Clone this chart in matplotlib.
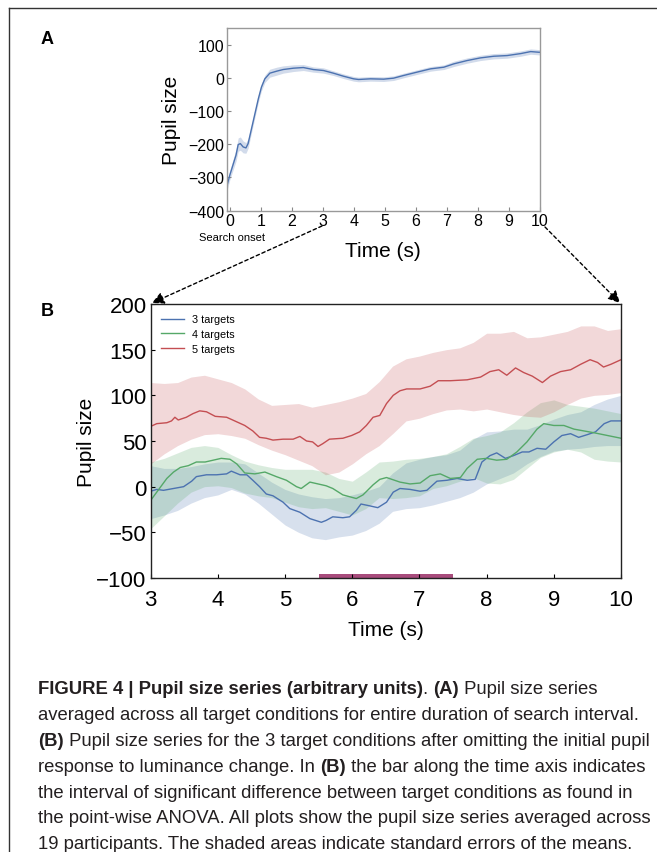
import matplotlib
matplotlib.use("Agg")
import matplotlib.pyplot as plt
from matplotlib.patches import ConnectionPatch
from matplotlib.lines import Line2D

plt.rcParams["font.family"] = ["Liberation Sans", "DejaVu Sans"]

# panel A: all conditions averaged
a_t = [-0.1, 0.0, 0.1, 0.2, 0.27, 0.34, 0.43, 0.52, 0.59, 0.7, 0.81, 0.92, 1.02, 1.13,
       1.29, 1.51, 1.72, 2.05, 2.37, 2.69, 3.02, 3.34, 3.66, 3.99, 4.15, 4.53, 4.96,
       5.28, 5.6, 6.03, 6.47, 6.9, 7.22, 7.65, 8.08, 8.51, 8.94, 9.38, 9.7, 9.97, 10.0]
a_mean = [-328, -293, -263, -233, -201, -198, -208, -211, -198, -153, -108, -63, -28, -3,
          14, 20, 25, 29, 31, 25, 22, 14, 5, -3, -5, -3, -4,
          -1, 7, 17, 27, 32, 42, 52, 60, 65, 67, 73, 79, 77, 77]
a_se = [14, 14, 16, 18, 20, 20, 18, 16, 14, 12, 11, 11, 11, 11,
        12, 12, 11, 10, 9, 8, 8, 7, 7, 7, 7, 7, 7,
        7, 7, 7, 7, 7, 8, 8, 8, 8, 8, 8, 8, 8, 8]

# panel B: per condition, 3-10 s
b_grid = [3.0, 3.2, 3.4, 3.6, 3.8, 4.0, 4.2, 4.4, 4.6, 4.8, 5.0, 5.2, 5.4, 5.6, 5.8, 6.0,
          6.2, 6.4, 6.6, 6.8, 7.0, 7.2, 7.4, 7.6, 7.8, 8.0, 8.2, 8.4, 8.6, 8.8, 9.0, 9.2,
          9.4, 9.6, 9.8, 10.0]

t3 = [3.0, 3.09, 3.19, 3.34, 3.49, 3.61, 3.68, 3.83, 3.98, 4.13, 4.2, 4.33, 4.43, 4.52,
      4.62, 4.72, 4.82, 4.97, 5.07, 5.22, 5.37, 5.54, 5.61, 5.71, 5.86, 5.96, 6.06, 6.13,
      6.26, 6.38, 6.51, 6.61, 6.71, 6.86, 7.01, 7.11, 7.26, 7.41, 7.56, 7.71, 7.83, 7.93,
      8.05, 8.15, 8.28, 8.4, 8.53, 8.63, 8.75, 8.88, 9.0, 9.12, 9.25, 9.37, 9.5, 9.62,
      9.75, 9.85, 10.0]
m3 = [-5, -3, -4, -2, 0, 6, 11, 13, 13, 14, 17, 13, 13, 7,
      0, -8, -10, -17, -24, -28, -35, -39, -37, -33, -34, -33, -26, -19,
      -21, -23, -17, -6, -2, -3, -5, -4, 6, 7, 9, 7, 8, 27,
      34, 37, 31, 34, 38, 38, 42, 41, 49, 56, 58, 54, 57, 60,
      69, 72, 72]
up3 = [23, 20, 20, 22, 25, 27, 27, 25, 15, 5, -3, -8, -11, -13, -12, -9,
       -5, 0, 15, 26, 30, 33, 35, 40, 52, 60, 61, 63, 63, 68, 74, 79,
       82, 90, 96, 100]
lo3 = [-35, -31, -26, -18, -12, -9, -3, -8, -18, -30, -42, -50, -56, -58, -55, -53,
       -48, -40, -27, -24, -23, -20, -16, -12, -6, 3, 9, 15, 25, 33, 39, 41,
       42, 44, 45, 45]

t4 = [3.0, 3.09, 3.24, 3.34, 3.44, 3.56, 3.68, 3.81, 3.93, 4.05, 4.18, 4.28, 4.4, 4.55,
      4.7, 4.87, 5.02, 5.17, 5.24, 5.37, 5.49, 5.61, 5.71, 5.86, 6.06, 6.16, 6.31, 6.41,
      6.51, 6.71, 6.86, 7.01, 7.16, 7.31, 7.46, 7.61, 7.71, 7.86, 8.0, 8.15, 8.3, 8.45,
      8.6, 8.75, 8.85, 9.0, 9.15, 9.3, 9.45, 9.6, 9.8, 10.0]
m4 = [-15, -6, 9, 16, 21, 23, 27, 27, 29, 31, 30, 25, 15, 14,
      16, 11, 7, 0, -2, 5, 3, 1, -2, -9, -13, -9, 2, 8,
      10, 5, 3, 4, 12, 14, 9, 10, 20, 30, 31, 29, 30, 38,
      49, 63, 69, 67, 67, 63, 61, 59, 56, 53]
up4 = [27, 31, 37, 43, 45, 43, 35, 28, 24, 21, 19, 19, 19, 16, 9, 6,
       16, 27, 28, 30, 31, 33, 36, 44, 53, 56, 60, 70, 82, 92, 95, 90,
       88, 86, 83, 80]
lo4 = [-46, -32, -18, -6, 0, 1, -1, -7, -10, -12, -17, -22, -24, -23, -27, -31,
       -24, -12, -13, -12, -10, -2, 1, 6, 10, 4, 3, 8, 20, 32, 38, 41,
       38, 30, 28, 27]

t5 = [3.0, 3.09, 3.24, 3.31, 3.36, 3.41, 3.53, 3.63, 3.73, 3.83, 3.96, 4.13, 4.28, 4.4,
      4.52, 4.62, 4.72, 4.82, 4.97, 5.12, 5.22, 5.32, 5.41, 5.49, 5.56, 5.66, 5.86, 5.99,
      6.11, 6.21, 6.31, 6.41, 6.51, 6.61, 6.71, 6.81, 7.01, 7.16, 7.28, 7.46, 7.71, 7.91,
      8.05, 8.18, 8.3, 8.43, 8.55, 8.68, 8.83, 8.95, 9.1, 9.25, 9.4, 9.54, 9.65, 9.74,
      9.85, 10.0]
m5 = [66, 69, 70, 72, 76, 73, 76, 80, 83, 82, 77, 76, 71, 67,
      61, 54, 53, 51, 52, 52, 55, 50, 49, 44, 47, 52, 53, 56,
      60, 67, 76, 78, 91, 100, 105, 107, 107, 110, 116, 116, 117, 120,
      126, 128, 122, 130, 125, 121, 114, 121, 126, 128, 134, 139, 136, 131,
      134, 139]
up5 = [114, 113, 114, 120, 122, 118, 114, 107, 96, 89, 90, 91, 87, 90, 93, 97,
       102, 115, 132, 140, 143, 147, 150, 152, 158, 168, 168, 170, 163, 164, 167, 170,
       176, 176, 171, 173]
lo5 = [25, 36, 45, 52, 57, 58, 56, 53, 46, 40, 35, 29, 23, 13, 16, 25,
       36, 45, 58, 72, 75, 80, 84, 85, 83, 85, 82, 79, 77, 76, 82, 90,
       97, 100, 101, 103]

labels = ["3 targets", "4 targets", "5 targets"]
colors = ["#4C72B0", "#55A868", "#C44E52"]
sig_start, sig_end = 5.5, 7.5

caption = [
    [("FIGURE 4 | Pupil size series (arbitrary units)", "bold"), (". ", "normal"),
     ("(A)", "bold"), (" Pupil size series", "normal")],
    [("averaged across all target conditions for entire duration of search interval.", "normal")],
    [("(B)", "bold"), (" Pupil size series for the 3 target conditions after omitting the initial pupil", "normal")],
    [("response to luminance change. In ", "normal"), ("(B)", "bold"),
     (" the bar along the time axis indicates", "normal")],
    [("the interval of significant difference between target conditions as found in", "normal")],
    [("the point-wise ANOVA. All plots show the pupil size series averaged across", "normal")],
    [("19 participants. The shaded areas indicate standard errors of the means.", "normal")],
]

W, H = 657, 853
fig = plt.figure(figsize=(W / 100, H / 100), dpi=100)


def px(x, y):
    return x / W, 1 - y / H


# --- panel A
axA = fig.add_axes([226.7 / W, 1 - 211.7 / H, (540 - 226.7) / W, (211.7 - 29) / H])
lower_a = [m - s for m, s in zip(a_mean, a_se)]
upper_a = [m + s for m, s in zip(a_mean, a_se)]
axA.fill_between(a_t, lower_a, upper_a, color=colors[0], alpha=0.25, lw=0)
axA.plot(a_t, a_mean, color=colors[0], lw=1)
axA.set_xlim(-0.1, 10)
axA.set_ylim(-400, 150)
axA.set_xticks(range(0, 11))
axA.set_yticks([-400, -300, -200, -100, 0, 100])
axA.set_yticklabels(["\u2212400", "\u2212300", "\u2212200", "\u2212100", "0", "100"])
axA.tick_params(direction="in", length=3, labelsize=11.5, color="#888888", pad=2)
for sp in axA.spines.values():
    sp.set_color("#999999")
    sp.set_linewidth(1)
axA.set_ylabel("Pupil size", fontsize=15, labelpad=5)
axA.set_xlabel("Time (s)", fontsize=15, labelpad=9)
fig.text(*px(199, 238), "Search onset", fontsize=8, va="center", ha="left")

# --- panel B
axB = fig.add_axes([150.7 / W, 1 - 579 / H, (621 - 150.7) / W, (579 - 305) / H])
bands = [(lo3, up3), (lo4, up4), (lo5, up5)]
series = [(t3, m3), (t4, m4), (t5, m5)]
for (lo, up), c in zip(bands, colors):
    axB.fill_between(b_grid, lo, up, color=c, alpha=0.22, lw=0)
for (t, m), c, lab in zip(series, colors, labels):
    axB.plot(t, m, color=c, lw=1, label=lab)
axB.fill_between([sig_start, sig_end], -100, -95.5, color="#A84C7C", lw=0)
axB.set_xlim(3, 10)
axB.set_ylim(-100, 200)
axB.set_xticks(range(3, 11))
axB.set_yticks([-100, -50, 0, 50, 100, 150, 200])
axB.set_yticklabels(["\u2212100", "\u221250", "0", "50", "100", "150", "200"])
axB.tick_params(direction="in", length=3, labelsize=16, pad=3)
axB.tick_params(axis="x", pad=8)
for sp in axB.spines.values():
    sp.set_color("#222222")
    sp.set_linewidth(1)
axB.set_ylabel("Pupil size", fontsize=15, labelpad=0)
axB.set_xlabel("Time (s)", fontsize=15, labelpad=7)
axB.legend(loc="upper left", frameon=False, fontsize=7.8, handlelength=2.1,
           labelspacing=0.45, handletextpad=0.8, borderaxespad=0.55)

# panel letters
fig.text(*px(47, 40), "A", fontsize=13, fontweight="bold", va="center", ha="center")
fig.text(*px(47, 312), "B", fontsize=13, fontweight="bold", va="center", ha="center")

# dashed zoom arrows
for start, end in [((322, 227), (152, 304)), ((545, 228), (620, 304))]:
    arr = ConnectionPatch(px(*start), px(*end), coordsA="figure fraction",
                          coordsB="figure fraction", arrowstyle="-|>,head_length=0.6,head_width=0.3",
                          linestyle=(0, (2.5, 2)), lw=1, color="black", mutation_scale=12)
    fig.add_artist(arr)

# frame lines
fig.add_artist(Line2D([9 / W, 9 / W], [0, 1 - 9 / H], color="#333333", lw=1))
fig.add_artist(Line2D([9 / W, 1], [1 - 9 / H, 1 - 9 / H], color="#333333", lw=1))

# caption with mixed bold segments
renderer = fig.canvas.get_renderer()
y0 = 690
for i, line in enumerate(caption):
    x = 38
    y = y0 + i * 25.8
    for txt, weight in line:
        t = fig.text(x / W, 1 - y / H, txt, fontsize=13.3, fontweight=weight,
                     va="center", ha="left", color="#231f20")
        bb = t.get_window_extent(renderer=renderer)
        x += bb.width

fig.savefig("out.png", dpi=100)
